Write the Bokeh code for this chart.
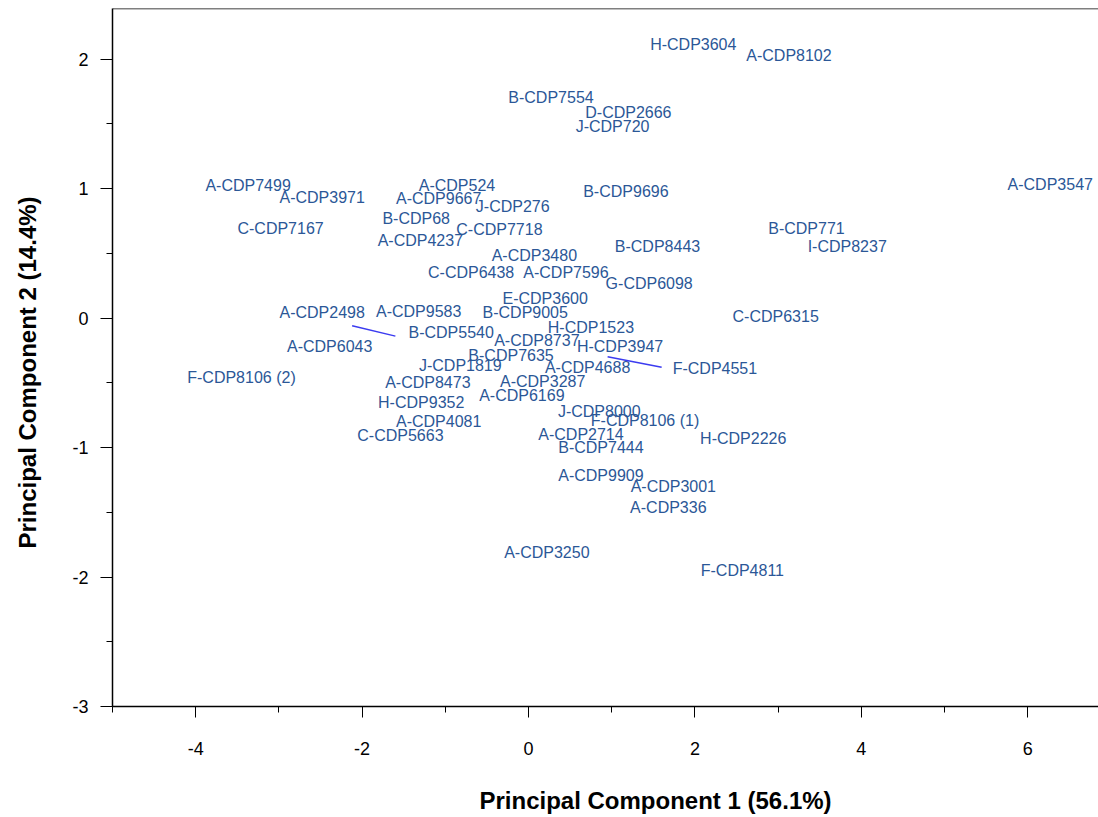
from bokeh.plotting import figure
from bokeh.models import (ColumnDataSource, FixedTicker, LinearAxis,
                          PrintfTickFormatter, SingleIntervalTicker, Span,
                          Title)
from bokeh.core.properties import value
from bokeh.embed import file_html
from bokeh.resources import INLINE

# Sample names and their scores on the first two principal components
names = [
    "H-CDP3604", "A-CDP8102", "B-CDP7554", "D-CDP2666", "J-CDP720",
    "A-CDP7499", "A-CDP3971", "A-CDP524", "A-CDP9667", "J-CDP276",
    "B-CDP9696", "A-CDP3547", "B-CDP68", "C-CDP7167", "C-CDP7718",
    "A-CDP4237", "B-CDP771", "B-CDP8443", "I-CDP8237", "A-CDP3480",
    "C-CDP6438", "A-CDP7596", "G-CDP6098", "E-CDP3600", "A-CDP2498",
    "A-CDP9583", "B-CDP9005", "C-CDP6315", "B-CDP5540", "H-CDP1523",
    "A-CDP6043", "A-CDP8737", "H-CDP3947", "B-CDP7635", "J-CDP1819",
    "A-CDP4688", "F-CDP4551", "F-CDP8106 (2)", "A-CDP8473", "A-CDP3287",
    "A-CDP6169", "H-CDP9352", "J-CDP8000", "A-CDP4081", "F-CDP8106 (1)",
    "C-CDP5663", "A-CDP2714", "H-CDP2226", "B-CDP7444", "A-CDP9909",
    "A-CDP3001", "A-CDP336", "A-CDP3250", "F-CDP4811",
]
pc1 = [
    1.98, 3.13, 0.27, 1.20, 1.01,
    -3.37, -2.48, -0.86, -1.08, -0.19,
    1.17, 6.27, -1.35, -2.98, -0.35,
    -1.30, 3.34, 1.55, 3.83, 0.07,
    -0.69, 0.45, 1.45, 0.20, -2.48,
    -1.32, -0.04, 2.97, -0.93, 0.75,
    -2.39, 0.10, 1.10, -0.21, -0.82,
    0.71, 2.24, -3.45, -1.21, 0.17,
    -0.08, -1.29, 0.85, -1.08, 1.40,
    -1.54, 0.63, 2.58, 0.87, 0.87,
    1.74, 1.68, 0.22, 2.57,
]
pc2 = [
    2.11, 2.03, 1.70, 1.59, 1.48,
    1.02, 0.93, 1.02, 0.92, 0.86,
    0.98, 1.03, 0.77, 0.69, 0.68,
    0.60, 0.69, 0.55, 0.55, 0.48,
    0.35, 0.35, 0.27, 0.15, 0.04,
    0.05, 0.04, 0.01, -0.11, -0.07,
    -0.22, -0.17, -0.22, -0.29, -0.37,
    -0.38, -0.39, -0.46, -0.50, -0.49,
    -0.60, -0.65, -0.72, -0.80, -0.79,
    -0.91, -0.90, -0.93, -1.00, -1.22,
    -1.30, -1.46, -1.81, -1.95,
]

# Leader lines joining displaced labels to their points
leader_x0 = [-2.12, 0.95]
leader_y0 = [-0.06, -0.30]
leader_x1 = [-1.60, 1.60]
leader_y1 = [-0.14, -0.38]

x_title = "Principal Component 1 (56.1%)"
y_title = "Principal Component 2 (14.4%)"

FONT = "Liberation Sans"

p = figure(
    frame_width=986, frame_height=698,
    min_border_left=112, min_border_right=0,
    min_border_top=8, min_border_bottom=111,
    x_range=(-5, 6.85), y_range=(-3, 2.39),
    output_backend="svg", toolbar_location=None,
    background_fill_color="white", border_fill_color="white",
)
p.outline_line_color = None
p.xgrid.visible = False
p.ygrid.visible = False

# top edge of the plotting box
p.add_layout(Span(location=2.39, dimension="width",
                  line_color="black", line_width=1.5))

p.xaxis.ticker = SingleIntervalTicker(interval=2, num_minor_ticks=2)
p.yaxis.ticker = SingleIntervalTicker(interval=1, num_minor_ticks=2)

for ax in (p.xaxis[0], p.yaxis[0]):
    ax.formatter = PrintfTickFormatter(format="%d")
    ax.axis_line_color = "black"
    ax.axis_line_width = 1.5
    ax.major_tick_line_color = "black"
    ax.minor_tick_line_color = "black"
    ax.major_tick_in = 0
    ax.minor_tick_in = 0
    ax.major_label_text_font = FONT
    ax.major_label_text_font_size = "18px"
    ax.major_label_text_color = "black"

p.xaxis.major_tick_out = 11
p.xaxis.minor_tick_out = 6
p.xaxis.major_label_standoff = 24
p.yaxis.major_tick_out = 12
p.yaxis.minor_tick_out = 6
p.yaxis.major_label_standoff = 12


def gap_axis(size):
    """Axis with one hidden tick and no line; it only reserves border space."""
    return LinearAxis(ticker=FixedTicker(ticks=[0]), axis_line_color=None,
                      major_tick_line_color=None, minor_tick_line_color=None,
                      major_tick_out=size, minor_tick_out=0,
                      major_tick_in=0, minor_tick_in=0,
                      major_label_standoff=0,
                      major_label_text_font_size="1px",
                      formatter=PrintfTickFormatter(format=""))


src = ColumnDataSource(dict(pc1=pc1, pc2=pc2, name=names))
p.text(x="pc1", y="pc2", text="name", source=src,
       text_font=value(FONT), text_font_size="16px",
       text_color="#2b5797", text_align="center", text_baseline="middle")

p.segment(x0=leader_x0, y0=leader_y0, x1=leader_x1, y1=leader_y1,
          line_color="#3b3bf0", line_width=1.5)

# axis titles, set off from the tick labels by a blank gap
p.add_layout(gap_axis(27), "below")
p.add_layout(Title(text=x_title, align="left", offset=367, standoff=0,
                   text_font=FONT, text_font_size="24px",
                   text_font_style="bold", text_color="black"), "below")
p.add_layout(gap_axis(29), "left")
p.add_layout(Title(text=y_title, align="left", offset=158, standoff=0,
                   text_font=FONT, text_font_size="24px",
                   text_font_style="bold", text_color="black"), "left")

open("out.html", "w").write(file_html(p, INLINE))
